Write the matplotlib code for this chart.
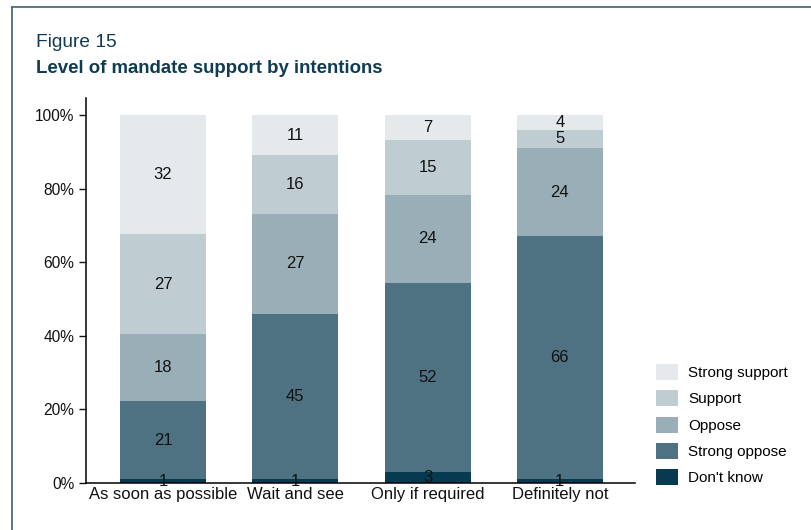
import numpy as np
import matplotlib
matplotlib.use("Agg")
import matplotlib.pyplot as plt
from matplotlib.lines import Line2D

plt.rcParams['font.family'] = ['Liberation Sans', 'DejaVu Sans']

# 按意向分组的支持度（%）
intentions = ["As soon as possible", "Wait and see", "Only if required", "Definitely not"]
dont_know = [1, 1, 3, 1]
strong_oppose = [21, 45, 52, 66]
oppose = [18, 27, 24, 24]
support = [27, 16, 15, 5]
strong_support = [32, 11, 7, 4]

series_names = ["Don't know", "Strong oppose", "Oppose", "Support", "Strong support"]
colors = ["#053a50", "#4e7282", "#9aaeb7", "#bfcdd3", "#e4e9ec"]

values = np.array([dont_know, strong_oppose, oppose, support, strong_support], dtype=float)
# 每列归一化到100%
shares = values / values.sum(axis=0) * 100

fig = plt.figure(figsize=(8.11, 5.30), dpi=100)
ax = fig.add_axes([86 / 811, 1 - 483 / 530, (635 - 86) / 811, (483 - 98) / 530])

x = np.arange(len(intentions))
bottom = np.zeros(len(intentions))
handles = []
for i in range(len(series_names)):
    bars = ax.bar(x, shares[i], bottom=bottom, width=0.65, color=colors[i],
                  label=series_names[i], zorder=2)
    handles.append(bars)
    for j in range(len(intentions)):
        ax.text(x[j], bottom[j] + shares[i][j] / 2, f"{int(values[i][j])}",
                ha='center', va='center', fontsize=12, color='#111111', zorder=3)
    bottom += shares[i]

ax.set_xlim(-0.582, 3.568)
ax.set_ylim(0, 104.6)
ax.set_yticks([0, 20, 40, 60, 80, 100])
ax.set_yticklabels([f"{t}%" for t in [0, 20, 40, 60, 80, 100]])
ax.set_xticks(x)
ax.set_xticklabels(intentions)
ax.tick_params(axis='y', length=5, width=1, labelsize=11.2, colors='#111111', pad=3.5)
ax.tick_params(axis='x', length=0, labelsize=12, colors='#111111', pad=3)
for side in ['top', 'right']:
    ax.spines[side].set_visible(False)
for side in ['left', 'bottom']:
    ax.spines[side].set_color('black')
    ax.spines[side].set_linewidth(1.1)

# 图例，从上往下为强烈支持到不知道
fig.legend(handles[::-1], series_names[::-1], loc='upper left',
           bbox_to_anchor=(656 / 811, 1 - 364 / 530), frameon=False,
           fontsize=11, handlelength=1.44, handleheight=1.24,
           labelspacing=0.66, handletextpad=0.65, borderpad=0, borderaxespad=0)

# 标题
fig.text(36 / 811, 1 - 47 / 530, "Figure 15", fontsize=13.8, color='#0f3c52',
         ha='left', va='baseline')
fig.text(36 / 811, 1 - 73 / 530, "Level of mandate support by intentions",
         fontsize=13.4, fontweight='bold', color='#0f3c52', ha='left', va='baseline')

# 外框（上边和左边）
fig.add_artist(Line2D([12 / 811, 1], [1 - 7 / 530, 1 - 7 / 530],
                      transform=fig.transFigure, color='#4b6e80', linewidth=1.3))
fig.add_artist(Line2D([12 / 811, 12 / 811], [0, 1 - 7 / 530],
                      transform=fig.transFigure, color='#4b6e80', linewidth=1.3))

fig.savefig("out.png", dpi=100)
